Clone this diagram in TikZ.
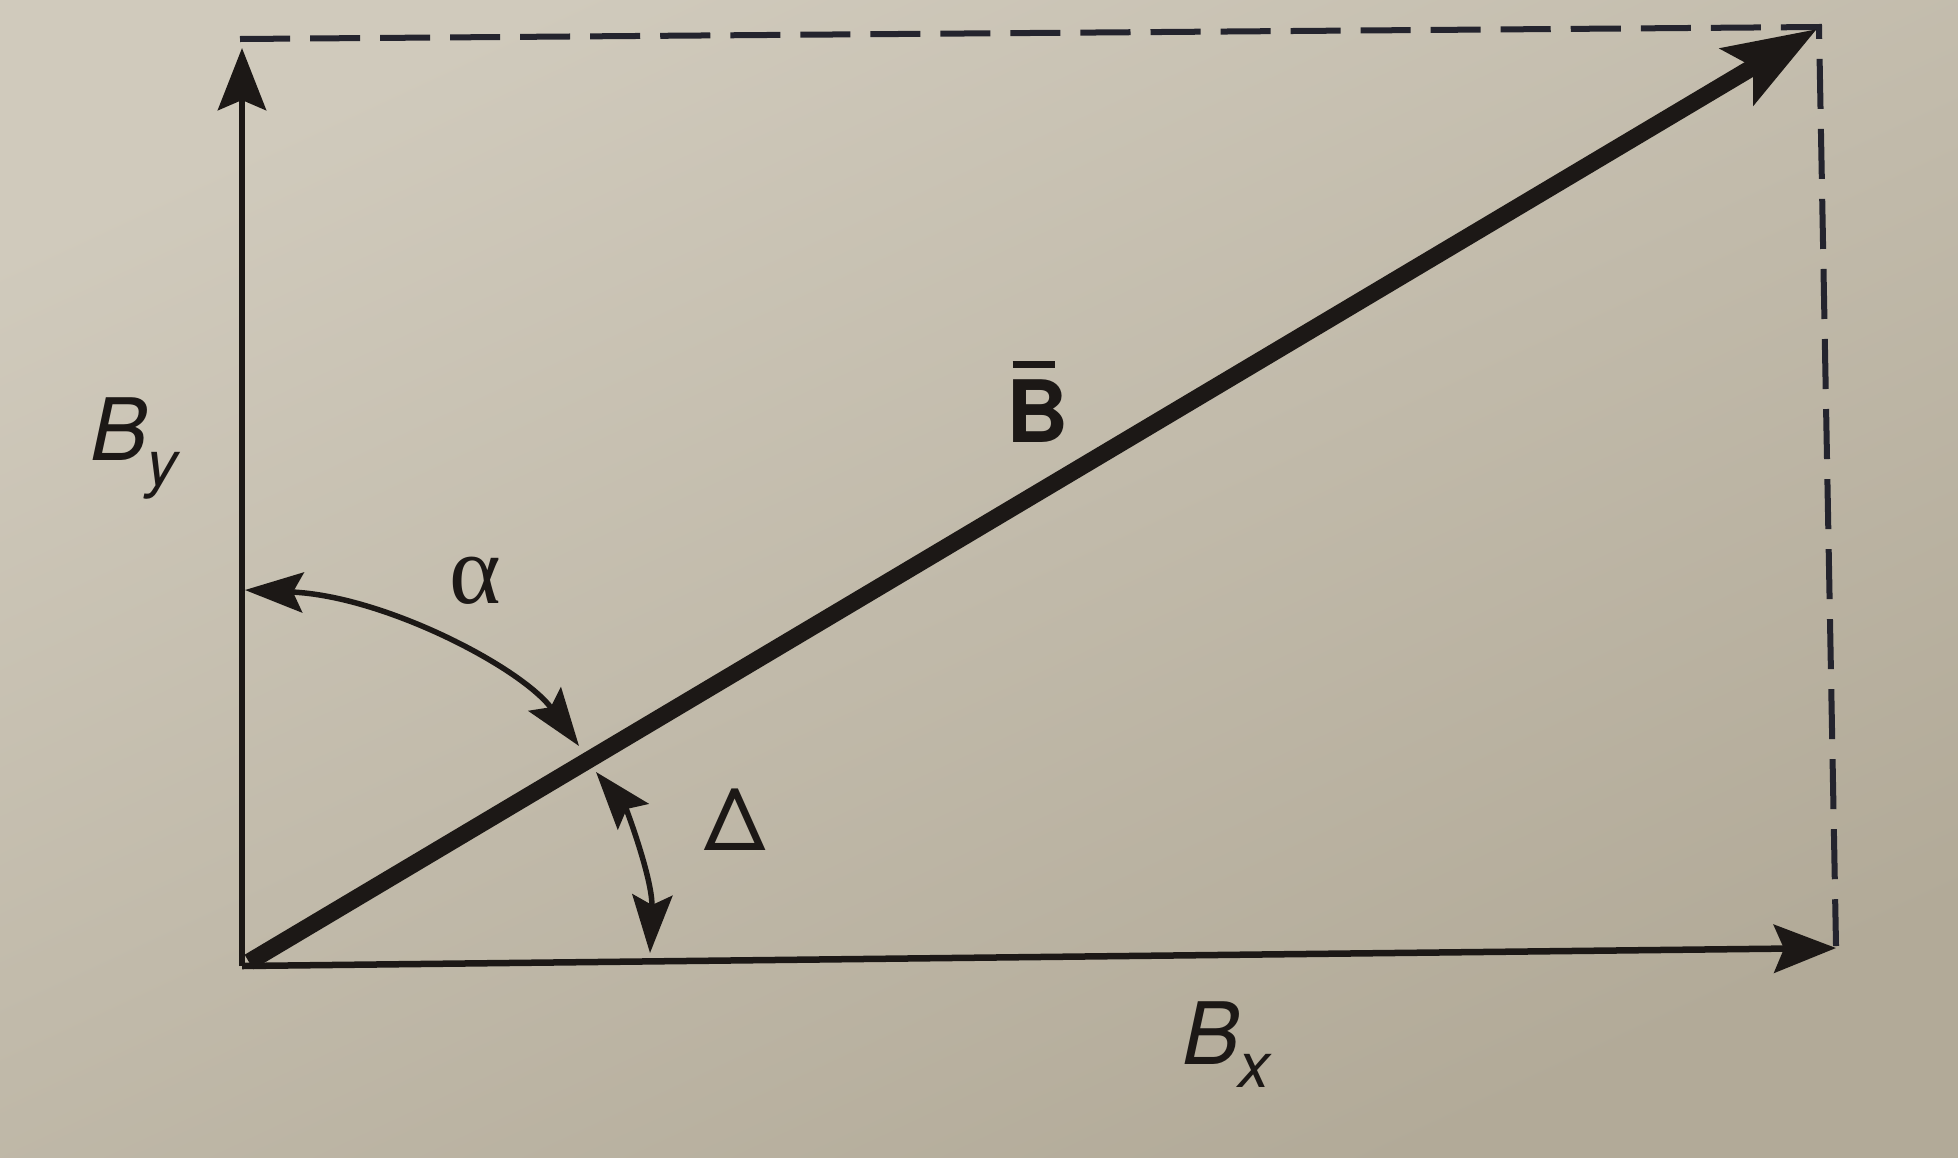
\documentclass[tikz,border=0pt]{standalone}
\usepackage{fontspec}
\setmainfont{TeX Gyre Heros}
\newfontfamily\serifgreek{Liberation Serif}
\usetikzlibrary{arrows.meta}
\definecolor{paperTop}{RGB}{208,202,188}
\definecolor{paperBot}{RGB}{178,170,152}
\definecolor{ink}{RGB}{28,24,22}
\definecolor{dashink}{RGB}{36,36,46}
\newcommand\subsz{\fontsize{18}{18}\selectfont}
\begin{document}
\begin{tikzpicture}[x=0.01cm,y=-0.01cm,
  axisline/.style={draw=ink,line width=0.065cm},
  vecline/.style={draw=ink,line width=0.17cm},
  dashline/.style={draw=dashink,line width=0.06cm,dash pattern=on 0.5cm off 0.2cm},
  arcline/.style={draw=ink,line width=0.055cm},
  bigtip/.style={-{Stealth[length=0.62cm,width=0.48cm,inset=0.1cm]}},
  vectip/.style={-{Stealth[length=0.92cm,width=0.64cm,inset=0.18cm]}},
  smalltips/.style={{Stealth[length=0.58cm,width=0.4cm,inset=0.1cm]}-{Stealth[length=0.58cm,width=0.4cm,inset=0.1cm]}},
  lbl/.style={inner sep=0pt,text=ink,font=\fontsize{24.5}{24.5}\selectfont}]
\useasboundingbox (0,0) rectangle (1958,1157);
\shade[top color=paperTop,bottom color=paperBot,shading angle=25] (0,0) rectangle (1958,1157);
% points
\coordinate (O) at (242,966);
\coordinate (Ob) at (249,962);
\coordinate (Ytip) at (242,48);
\coordinate (Xtip) at (1836,948);
\coordinate (Btip) at (1817,29);
\coordinate (TL) at (240,39);
\coordinate (TR) at (1819,27);
\coordinate (BR) at (1836,946);
\coordinate (a1) at (245,590);
\coordinate (a2) at (579,746);
\coordinate (d1) at (596,772);
\coordinate (d2) at (650,953);
% dashed rectangle sides
\draw[dashline] (TL) -- (TR) -- (BR);
% axes
\draw[axisline,bigtip] (O) -- (Ytip);
\draw[axisline,bigtip] (O) -- (Xtip);
% vector
\draw[vecline,vectip] (Ob) -- (Btip);
% angle arcs
\draw[arcline,smalltips] (a1) .. controls (385,596) and (522,668) .. (a2);
\draw[arcline,smalltips] (d1) .. controls (626,808) and (653,880) .. (d2);
% labels
\node[lbl,anchor=base west] (By) at (90,460) {\itshape B\kern-0.02cm\raisebox{-0.25cm}{\subsz y}};
\node[lbl,anchor=base west] (Bx) at (1182,1064) {\itshape B\kern-0.02cm\raisebox{-0.23cm}{\subsz x}};
\node[lbl,anchor=base west] (Bbar) at (1006,442) {\bfseries\rlap{\hspace{0.06cm}\rule[0.74cm]{0.42cm}{0.07cm}}B};
\node[lbl,anchor=base] (Delta) at (735,850) {Δ};
\node[inner sep=0pt,text=ink,anchor=base,font=\serifgreek\fontsize{28}{28}\selectfont] (alpha) at (475,603) {α};
\end{tikzpicture}
\end{document}
